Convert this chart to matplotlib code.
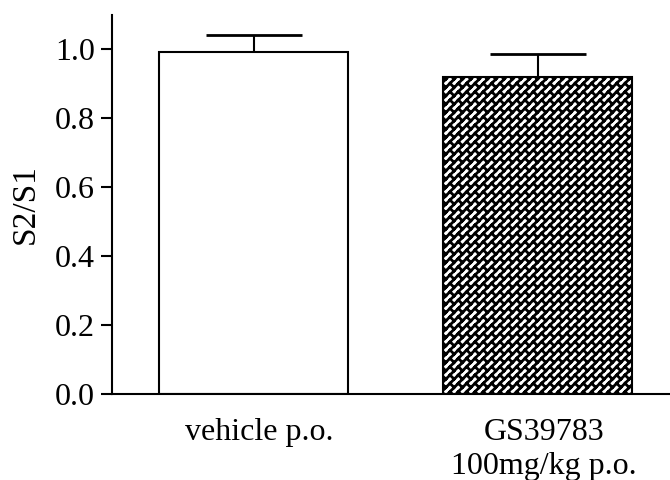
import warnings
import numpy as np
import matplotlib
matplotlib.use("Agg")
import matplotlib.pyplot as plt
import matplotlib.hatch as mhatch
import matplotlib.transforms as mtrans
from matplotlib.path import Path

warnings.filterwarnings("ignore")

groups = ["vehicle p.o.", "GS39783\n100mg/kg p.o."]
ratio = [0.992, 0.920]
sem = [0.051, 0.066]
hatches = [None, "b"]


# brick-like diagonal hatch ('b'), not one of matplotlib's own
class BrickHatch(mhatch.HatchPatternBase):
    def __init__(self, hatch, density):
        self.segs = []
        if "b" in hatch:
            n = 24
            d = 1.0 / n
            for k in range(-n, n + 1):
                s = k * d
                self.segs.append(((-0.5 + s, -0.5 - s), (1.5 + s, 1.5 - s)))
                off = 0 if k % 2 == 0 else d
                for j in range(-7, 20):
                    t = j * 2 * d + off
                    self.segs.append(((t + s, t - s), (t + s + d, t - s - d)))
        self.num_vertices = 2 * len(self.segs)

    def set_vertices_and_codes(self, vertices, codes):
        for i, (a, b) in enumerate(self.segs):
            vertices[2 * i] = a
            vertices[2 * i + 1] = b
            codes[2 * i] = Path.MOVETO
            codes[2 * i + 1] = Path.LINETO


mhatch._hatch_types.append(BrickHatch)

plt.rcParams["font.family"] = ["Liberation Serif", "DejaVu Serif"]
plt.rcParams["hatch.linewidth"] = 2.0
plt.rcParams["hatch.color"] = "black"

fig = plt.figure(figsize=(6.7, 4.8), dpi=100)
ax = fig.add_axes([0.1667, 0.179, 0.8333, 0.79])

x = np.arange(len(groups))
bars = ax.bar(x, ratio, width=0.667, color="white", edgecolor="black",
              linewidth=1.5, zorder=2)
for b, h in zip(bars, hatches):
    if h:
        b.set_hatch(h)

ax.errorbar(x, ratio, yerr=[np.zeros(len(sem)), sem], fmt="none",
            ecolor="black", elinewidth=1.5, capsize=34.7, capthick=2,
            zorder=1)

ax.set_xlim(-0.5, 1.466)
ax.set_ylim(0, 1.1)
ax.set_yticks([0.0, 0.2, 0.4, 0.6, 0.8, 1.0])
ax.set_yticklabels(["0.0", "0.2", "0.4", "0.6", "0.8", "1.0"])
ax.set_xticks(x)
ax.set_xticklabels(groups, linespacing=1.25)

for sp in ["top", "right"]:
    ax.spines[sp].set_visible(False)
for sp in ["left", "bottom"]:
    ax.spines[sp].set_linewidth(1.5)

ax.tick_params(axis="y", direction="out", length=8, width=1.5,
               labelsize=23, pad=4)
ax.tick_params(axis="x", length=0, labelsize=23, pad=17)
for lab in ax.get_xticklabels():
    lab.set_transform(lab.get_transform() +
                      mtrans.ScaledTranslation(6 / 100, 0, fig.dpi_scale_trans))

ax.set_ylabel("S2/S1", fontsize=24, labelpad=10)

fig.savefig("out.png", dpi=100)
